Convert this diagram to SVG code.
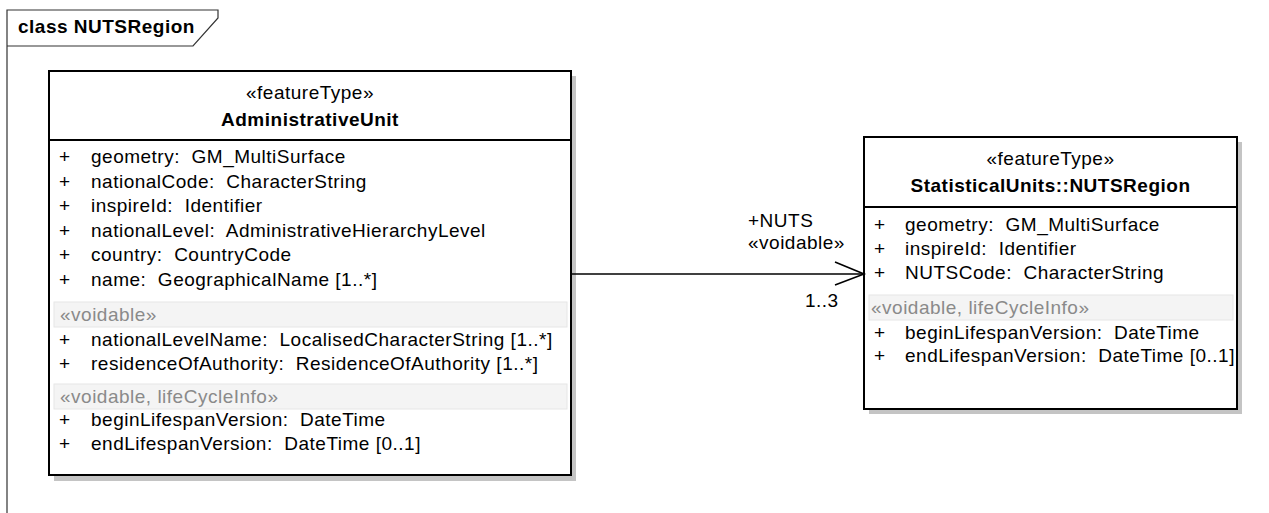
<svg xmlns="http://www.w3.org/2000/svg" width="1269" height="513" viewBox="0 0 1269 513">
<style>
text { font-family: "Liberation Sans", Arial, sans-serif; font-size: 19px; letter-spacing: 0.5px; fill: #000; white-space: pre; }
.b { font-weight: bold; }
.c { text-anchor: middle; }
.g { fill: #8a8a8a; }
.box { fill: #fff; stroke: #000; stroke-width: 2; }
.shadow { fill: #c4c4c4; }
.div { stroke: #000; stroke-width: 2; }
.band { fill: #f4f4f4; stroke: #e6e6e6; stroke-width: 1; }
.frame { fill: none; stroke: #333; stroke-width: 1.2; }
.conn { fill: none; stroke: #000; stroke-width: 1.6; }
</style>
<rect width="1269" height="513" fill="#fff"/>
<g id="frame">
<path class="frame" d="M7,513 V10 H218 V18 L193,46 H7"/>
<text class="b" x="18" y="33">class NUTSRegion</text>
</g>
<g id="AdministrativeUnit">
<rect class="shadow" x="54" y="76" width="522" height="405"/>
<rect class="box" x="49" y="71" width="522" height="404"/>
<line class="div" x1="49" y1="140" x2="571" y2="140"/>
<text class="c" x="310" y="99">«featureType»</text>
<text class="c b" x="310" y="126">AdministrativeUnit</text>
<text x="59" y="163">+</text><text x="91" y="163">geometry:  GM_MultiSurface</text>
<text x="59" y="188">+</text><text x="91" y="188">nationalCode:  CharacterString</text>
<text x="59" y="212">+</text><text x="91" y="212">inspireId:  Identifier</text>
<text x="59" y="237">+</text><text x="91" y="237">nationalLevel:  AdministrativeHierarchyLevel</text>
<text x="59" y="261">+</text><text x="91" y="261">country:  CountryCode</text>
<text x="59" y="286">+</text><text x="91" y="286">name:  GeographicalName [1..*]</text>
<rect class="band" x="54" y="302" width="513" height="25"/>
<text class="g" x="60" y="321">«voidable»</text>
<text x="59" y="346">+</text><text x="91" y="346">nationalLevelName:  LocalisedCharacterString [1..*]</text>
<text x="59" y="370">+</text><text x="91" y="370">residenceOfAuthority:  ResidenceOfAuthority [1..*]</text>
<rect class="band" x="54" y="384" width="513" height="25"/>
<text class="g" x="60" y="403">«voidable, lifeCycleInfo»</text>
<text x="59" y="426">+</text><text x="91" y="426">beginLifespanVersion:  DateTime</text>
<text x="59" y="450">+</text><text x="91" y="450">endLifespanVersion:  DateTime [0..1]</text>
</g>
<g id="NUTSRegion">
<rect class="shadow" x="869" y="142" width="373" height="272"/>
<rect class="box" x="864" y="137" width="373" height="272"/>
<line class="div" x1="864" y1="207" x2="1237" y2="207"/>
<text class="c" x="1050.5" y="165">«featureType»</text>
<text class="c b" x="1050.5" y="192">StatisticalUnits::NUTSRegion</text>
<text x="874" y="231">+</text><text x="905" y="231">geometry:  GM_MultiSurface</text>
<text x="874" y="255">+</text><text x="905" y="255">inspireId:  Identifier</text>
<text x="874" y="279">+</text><text x="905" y="279">NUTSCode:  CharacterString</text>
<rect class="band" x="869" y="295" width="364" height="25"/>
<text class="g" x="871" y="314">«voidable, lifeCycleInfo»</text>
<text x="874" y="339">+</text><text x="905" y="339">beginLifespanVersion:  DateTime</text>
<text x="874" y="362">+</text><text x="905" y="362">endLifespanVersion:  DateTime [0..1]</text>
</g>
<g id="connectors">
<line class="conn" x1="572" y1="274" x2="863" y2="274"/>
<polyline class="conn" points="835,262 864,274 835,285"/>
<text x="748" y="227">+NUTS</text>
<text x="748" y="249">«voidable»</text>
<text x="805" y="307">1..3</text>
</g>
</svg>
